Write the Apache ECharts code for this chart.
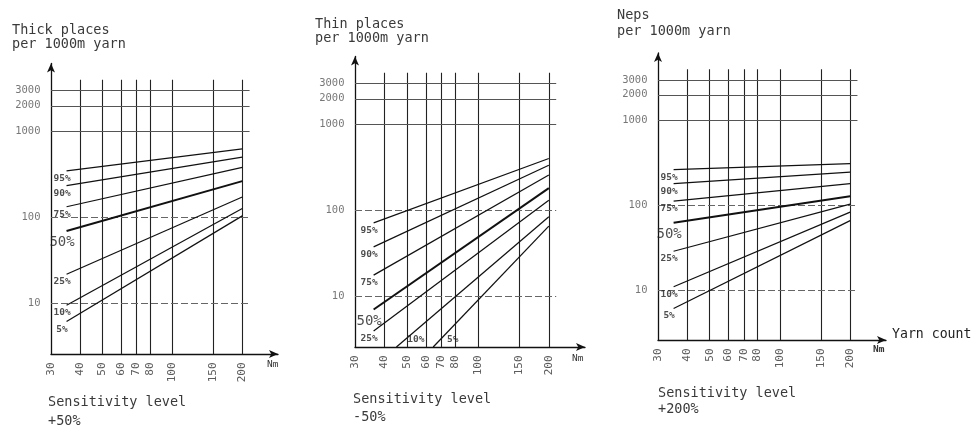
<!DOCTYPE html>
<html>
<head>
<meta charset="utf-8">
<script src="https://cdn.jsdelivr.net/npm/echarts@6.0.0/dist/echarts.min.js"></script>
<style>
html, body { margin: 0; padding: 0; background: #fff; }
#chart { width: 976px; height: 427px; }
</style>
</head>
<body>
<div id="chart"></div>
<script>
// Yarn count ticks (Nm) and fault-count gridlines shared by all three panels
const nmTicks = [30, 40, 50, 60, 70, 80, 100, 150, 200];
const countTicks = [10, 100, 1000, 2000, 3000];
const levels = ['95%', '90%', '75%', '50%', '25%', '10%', '5%'];
const endNm = 200;

// Thick places per 1000 m yarn, sensitivity level +50%
const thickStartNm = [35, 35, 35, 35, 35, 35, 35];
const thickStart = [350, 236, 134, 70, 22, 9.6, 6.2];
const thickEnd = [630, 505, 385, 266, 174, 128, 105];

// Thin places per 1000 m yarn, sensitivity level -50%
const thinStartNm = [36, 36, 36, 36, 36, 45, 64.5];
const thinStart = [72, 38, 17.8, 7.1, 4.0, 2.6, 2.6];
const thinEnd = [404, 337, 260, 183, 132, 85, 66];

// Neps per 1000 m yarn, sensitivity level +200%
const nepsStartNm = [35, 35, 35, 35, 35, 35, 35];
const nepsStart = [263, 180, 112, 62.5, 28.8, 11, 6.1];
const nepsEnd = [310, 246, 180, 128, 103, 83, 66];

// Axis ranges (log scales) and gridline extents
const xMin = 30, xMax = 285;
const yMin = 2.6, yMax = 6200;
const vGridTop = 4000;
const hGridRight = 215;

const MONO = "'DejaVu Sans Mono', 'Liberation Mono', monospace";
const INK = '#111';
const TEXT = '#3a3a3a';

const panels = [
  {
    title: ['Thick places', 'per 1000m yarn'], titleX: 12, titleY: [30, 44],
    foot: ['Sensitivity level', '+50%'], footX: 48, footY: [402, 421],
    grid: { left: 51, top: 63.5, width: 227, height: 290.5 },
    nm: { x: 267, y: 365 },
    startNm: thickStartNm, start: thickStart, end: thickEnd
  },
  {
    title: ['Thin places', 'per 1000m yarn'], titleX: 315, titleY: [24, 38],
    foot: ['Sensitivity level', '-50%'], footX: 353, footY: [399, 417],
    grid: { left: 355, top: 56.5, width: 230, height: 290.5 },
    nm: { x: 572, y: 359 },
    startNm: thinStartNm, start: thinStart, end: thinEnd
  },
  {
    title: ['Neps', 'per 1000m yarn'], titleX: 617, titleY: [15, 31],
    foot: ['Sensitivity level', '+200%'], footX: 658, footY: [393, 409],
    grid: { left: 658, top: 53, width: 228, height: 287 },
    nm: { x: 873, y: 350, bold: true },
    startNm: nepsStartNm, start: nepsStart, end: nepsEnd
  }
];

const grids = [], xAxes = [], yAxes = [], series = [], graphics = [];

function axisLine() {
  return {
    show: true, onZero: false,
    symbol: ['none', 'arrow'], symbolSize: [6, 9],
    lineStyle: { color: INK, width: 1.3 }
  };
}

panels.forEach((p, i) => {
  grids.push(Object.assign({ containLabel: false, outerBoundsMode: 'none' }, p.grid));
  xAxes.push({
    type: 'log', logBase: 10, gridIndex: i, min: xMin, max: xMax,
    axisLine: axisLine(), axisTick: { show: false }, axisLabel: { show: false },
    splitLine: { show: false }
  });
  yAxes.push({
    type: 'log', logBase: 10, gridIndex: i, min: yMin, max: yMax,
    axisLine: axisLine(), axisTick: { show: false }, axisLabel: { show: false },
    splitLine: { show: false }
  });

  const common = { xAxisIndex: i, yAxisIndex: i, silent: true, animation: false };

  // vertical yarn-count gridlines
  series.push(Object.assign({
    type: 'lines', coordinateSystem: 'cartesian2d', z: 1,
    data: nmTicks.filter(v => v > xMin).map(v => ({ coords: [[v, yMin], [v, vGridTop]] })),
    lineStyle: { color: '#222', width: 1.1, opacity: 1 }
  }, common));

  // horizontal count gridlines: solid for the thousands, dashed for 10 and 100
  series.push(Object.assign({
    type: 'lines', coordinateSystem: 'cartesian2d', z: 1,
    data: countTicks.filter(v => v >= 1000).map(v => ({ coords: [[xMin, v], [hGridRight, v]] })),
    lineStyle: { color: '#555', width: 1, opacity: 1 }
  }, common));
  series.push(Object.assign({
    type: 'lines', coordinateSystem: 'cartesian2d', z: 1,
    data: countTicks.filter(v => v < 1000).map(v => ({ coords: [[xMin, v], [hGridRight, v]] })),
    lineStyle: { color: '#666', width: 1, opacity: 1, type: [7, 3] }
  }, common));

  // percentile curves
  levels.forEach((lv, j) => {
    series.push(Object.assign({
      type: 'line', name: lv, z: 3, symbol: 'none',
      data: [[p.startNm[j], p.start[j]], [endNm, p.end[j]]],
      lineStyle: { color: INK, width: lv === '50%' ? 2 : 1.25 }
    }, common));
  });

  // percentile labels, under the start of each curve (beside it when the curve rises from the axis)
  series.push(Object.assign({
    type: 'scatter', z: 4, clip: false, symbolSize: 1,
    itemStyle: { color: 'transparent' },
    data: levels.map((lv, j) => {
      const onAxis = p.start[j] <= yMin;
      const big = lv === '50%';
      return {
        name: lv,
        value: [p.startNm[j], p.start[j]],
        label: {
          show: true, formatter: '{b}',
          position: onAxis ? [20, -7] : [-4, big ? 12 : 8],
          align: 'center', verticalAlign: 'middle',
          fontFamily: MONO, fontSize: big ? 14 : 9.5,
          fontWeight: big ? 'normal' : 'bold', color: '#222'
        }
      };
    })
  }, common));

  // count tick labels on the left
  series.push(Object.assign({
    type: 'scatter', z: 4, clip: false, symbolSize: 1,
    itemStyle: { color: 'transparent' },
    data: countTicks.map(v => [xMin, v]),
    label: {
      show: true, position: 'left', distance: 10,
      formatter: d => String(d.value[1]),
      fontFamily: MONO, fontSize: 10.5, color: '#555'
    }
  }, common));

  // yarn count tick labels, vertical under the axis
  series.push(Object.assign({
    type: 'scatter', z: 4, clip: false, symbolSize: 1,
    itemStyle: { color: 'transparent' },
    data: nmTicks.map(v => [v, yMin]),
    label: {
      show: true, position: 'bottom', distance: 8, rotate: 90,
      align: 'right', verticalAlign: 'middle',
      formatter: d => String(d.value[0]),
      fontFamily: MONO, fontSize: 11, color: '#333'
    }
  }, common));

  // titles, footers and unit label
  p.title.forEach((t, k) => graphics.push({
    type: 'text', x: p.titleX, y: p.titleY[k], silent: true,
    style: { text: t, fontFamily: MONO, fontSize: 13.5, fill: TEXT, verticalAlign: 'middle' }
  }));
  p.foot.forEach((t, k) => graphics.push({
    type: 'text', x: p.footX, y: p.footY[k], silent: true,
    style: { text: t, fontFamily: MONO, fontSize: 13.5, fill: TEXT, verticalAlign: 'middle' }
  }));
  graphics.push({
    type: 'text', x: p.nm.x, y: p.nm.y, silent: true,
    style: { text: 'Nm', fontFamily: MONO, fontSize: 9.5, fontWeight: p.nm.bold ? 'bold' : 'normal',
             fill: '#333', verticalAlign: 'middle' }
  });
});

graphics.push({
  type: 'text', x: 892, y: 335, silent: true,
  style: { text: 'Yarn count', fontFamily: MONO, fontSize: 13.2, fill: '#222', verticalAlign: 'middle' }
});

const chart = echarts.init(document.getElementById('chart'), null, { renderer: 'canvas' });
chart.setOption({
  backgroundColor: '#fff',
  animation: false,
  grid: grids,
  xAxis: xAxes,
  yAxis: yAxes,
  series: series,
  graphic: graphics
});
</script>
</body>
</html>
